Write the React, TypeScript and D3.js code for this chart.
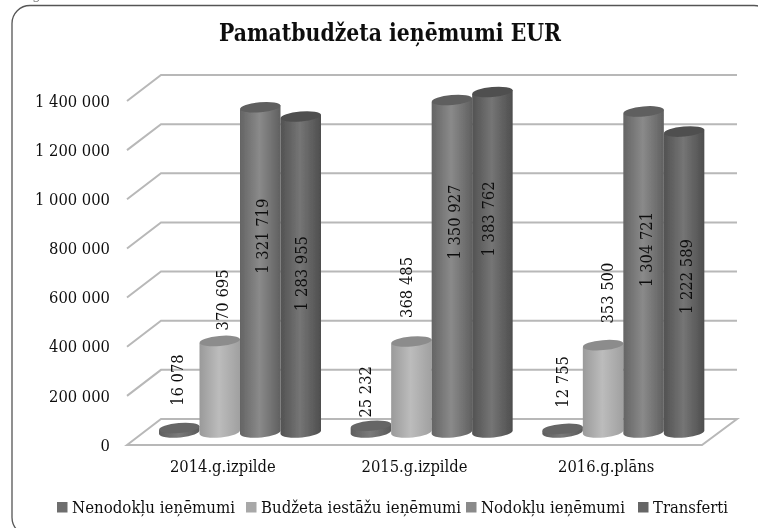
import React from 'react'
import * as d3 from 'd3'

const categories = ['2014.g.izpilde', '2015.g.izpilde', '2016.g.plāns']
const seriesNames = ['Nenodokļu ieņēmumi', 'Budžeta iestāžu ieņēmumi', 'Nodokļu ieņēmumi', 'Transferti']
const nenodoklu = [16078, 25232, 12755]
const budzeta = [370695, 368485, 353500]
const nodoklu = [1321719, 1350927, 1304721]
const transferti = [1283955, 1383762, 1222589]
const yTicks = [0, 200000, 400000, 600000, 800000, 1000000, 1200000, 1400000]

// data labels were moved by hand in the original, so they get their own nudges
const labelDx = [
  [-2, 2, 2, 0],
  [-6, -5, 2, -4],
  [0, 4, 3, 2],
]
const labelDy = [
  [-48, -41, 129, 157],
  [-34, -54, 122, 127],
  [-47, -52, 138, 145],
]

const seriesStyles = [
  { stops: ['#5e5e5e', '#7a7a7a', '#5a5a5a'], top: '#666666', legend: '#6e6e6e' },
  { stops: ['#9a9a9a', '#bcbcbc', '#a0a0a0'], top: '#8c8c8c', legend: '#a8a8a8' },
  { stops: ['#646464', '#8a8a8a', '#606060'], top: '#5e5e5e', legend: '#8a8a8a' },
  { stops: ['#525252', '#757575', '#4e4e4e'], top: '#505050', legend: '#666666' },
]
const legendX = [57, 246, 466, 638]
const legendWidths = [163, 200, 144, 75]

const width = 758
const height = 528
const serif = '"DejaVu Serif Condensed", "Liberation Serif", serif'
const fmt = d3.formatLocale({ decimal: ',', thousands: ' ', grouping: [3], currency: ['', ''] }).format(',d')

function App() {
  const svgRef = React.useRef<SVGSVGElement>(null)

  React.useEffect(() => {
    const svg = d3.select(svgRef.current)
    svg.selectAll('*').remove()

    const series = [nenodoklu, budzeta, nodoklu, transferti]
    const depthX = 34
    const depthY = 26

    const x0 = d3.scaleBand().domain(categories).range([127, 702])
    const y = d3.scaleLinear().domain([0, 1400000]).range([445, 101])
    const x1 = d3
      .scaleBand()
      .domain(seriesNames)
      .range([0, 162])
    const baseY = y(0) - 13

    const defs = svg.append('defs')
    seriesStyles.forEach((s, i) => {
      const g = defs.append('linearGradient').attr('id', `cyl${i}`)
      g.append('stop').attr('offset', '0%').attr('stop-color', s.stops[0])
      g.append('stop').attr('offset', '48%').attr('stop-color', s.stops[1])
      g.append('stop').attr('offset', '100%').attr('stop-color', s.stops[2])
    })
    defs
      .append('filter')
      .attr('id', 'soft')
      .append('feGaussianBlur')
      .attr('stdDeviation', 0.45)

    const root = svg.append('g').attr('filter', 'url(#soft)')

    // Cropped caption above the frame
    root
      .append('text')
      .attr('x', 9)
      .attr('y', -1)
      .attr('font-family', serif)
      .attr('font-size', 15)
      .attr('fill', '#777777')
      .text('Diagramma 9.10')

    // Rounded frame, runs off the right and bottom of the page
    root
      .append('rect')
      .attr('x', 12)
      .attr('y', 5.5)
      .attr('width', 760)
      .attr('height', 530)
      .attr('rx', 18)
      .attr('fill', 'white')
      .attr('stroke', '#555555')
      .attr('stroke-width', 1.3)

    // Title
    root
      .append('text')
      .attr('x', 390)
      .attr('y', 41)
      .attr('text-anchor', 'middle')
      .attr('font-family', serif)
      .attr('font-size', 23.5)
      .attr('font-weight', 'bold')
      .attr('textLength', 342)
      .attr('lengthAdjust', 'spacingAndGlyphs')
      .attr('fill', '#111111')
      .text('Pamatbudžeta ieņēmumi EUR')

    // Floor
    const left = x0.range()[0]
    const right = x0.range()[1]
    root
      .append('path')
      .attr(
        'd',
        `M${left},${y(0)}L${left + depthX},${y(0) - depthY}L${right + depthX + 1},${y(0) - depthY}L${right},${y(0)}Z`
      )
      .attr('fill', 'white')
      .attr('stroke', '#b8b8b8')
      .attr('stroke-width', 2)

    // Gridlines
    root
      .append('g')
      .selectAll('path')
      .data(yTicks.slice(1))
      .enter()
      .append('path')
      .attr(
        'd',
        (d) =>
          `M${left},${y(d)}L${left + depthX},${y(d) - depthY}L${right + depthX + 1},${y(d) - depthY}`
      )
      .attr('fill', 'none')
      .attr('stroke', '#b8b8b8')
      .attr('stroke-width', 2)

    // Y tick labels
    root
      .append('g')
      .selectAll('text')
      .data(yTicks)
      .enter()
      .append('text')
      .attr('x', 110)
      .attr('y', (d) => y(d))
      .attr('dy', '0.35em')
      .attr('text-anchor', 'end')
      .attr('font-family', serif)
      .attr('font-size', 16.4)
      .attr('fill', '#111111')
      .text((d) => fmt(d))

    // Category labels
    root
      .append('g')
      .selectAll('text')
      .data(categories)
      .enter()
      .append('text')
      .attr('x', (d) => x0(d) + x0.bandwidth() / 2)
      .attr('y', 472)
      .attr('text-anchor', 'middle')
      .attr('font-family', serif)
      .attr('font-size', 16.4)
      .attr('fill', '#111111')
      .text((d) => d)

    // Cylinders, left to right so the later ones overlap
    const tilt = 2
    categories.forEach((cat, c) => {
      seriesNames.forEach((name, s) => {
        const xa = x0(cat) + 32 + x1(name)
        const rx = x1.bandwidth() / 2
        const xb = xa + rx * 2
        const h = y(0) - y(series[s][c])
        const topY = baseY - h
        const g = root.append('g')
        g.append('path')
          .attr(
            'd',
            `M${xa},${topY + tilt}L${xa},${baseY + tilt}A${rx},5.5,-5,0,0,${xb},${baseY - tilt}L${xb},${topY - tilt}Z`
          )
          .attr('fill', `url(#cyl${s})`)
        g.append('ellipse')
          .attr('cx', xa + rx)
          .attr('cy', topY)
          .attr('rx', rx)
          .attr('ry', 5)
          .attr('transform', `rotate(-5 ${xa + rx} ${topY})`)
          .attr('fill', seriesStyles[s].top)
      })
    })

    // Data labels
    categories.forEach((cat, c) => {
      seriesNames.forEach((name, s) => {
        const cx = x0(cat) + 32 + x1(name) + x1.bandwidth() / 2 + labelDx[c][s]
        const cy = baseY - (y(0) - y(series[s][c])) + labelDy[c][s]
        root
          .append('text')
          .attr('transform', `translate(${cx},${cy}) rotate(-90)`)
          .attr('dy', '0.35em')
          .attr('text-anchor', 'middle')
          .attr('font-family', serif)
          .attr('font-size', 16.4)
          .attr('fill', '#111111')
          .text(fmt(series[s][c]))
      })
    })

    // Legend
    seriesNames.forEach((name, s) => {
      root
        .append('rect')
        .attr('x', legendX[s])
        .attr('y', 502)
        .attr('width', 10.5)
        .attr('height', 10.5)
        .attr('fill', seriesStyles[s].legend)
      root
        .append('text')
        .attr('x', legendX[s] + 15)
        .attr('y', 513)
        .attr('font-family', serif)
        .attr('font-size', 16.4)
        .attr('textLength', legendWidths[s])
        .attr('lengthAdjust', 'spacingAndGlyphs')
        .attr('fill', '#111111')
        .text(name)
    })
  }, [])

  return (
    <svg
      ref={svgRef}
      width={width}
      height={height}
      style={{ position: 'absolute', left: 0, top: 0, background: 'white' }}
    ></svg>
  )
}

export default App
